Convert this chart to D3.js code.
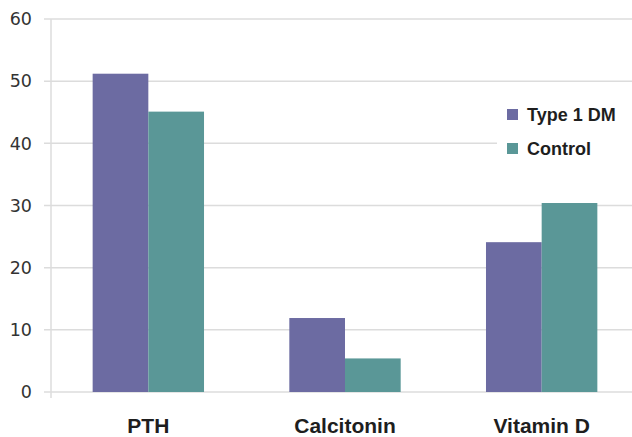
<!DOCTYPE html>
<html>
<head>
<meta charset="utf-8">
<script src="https://cdn.jsdelivr.net/npm/d3@7"></script>
<style>
  html, body { margin: 0; padding: 0; background: #fff; }
  svg { display: block; }
</style>
</head>
<body>
<svg id="chart" width="632" height="437"></svg>
<script>
// Bone-metabolism markers, Type 1 DM vs control
const categories = ["PTH", "Calcitonin", "Vitamin D"];
const seriesNames = ["Type 1 DM", "Control"];
const type1Values = [51.2, 11.9, 24.1];
const controlValues = [45.1, 5.4, 30.4];
const yTicks = [0, 10, 20, 30, 40, 50, 60];
const colors = ["#6c6ba2", "#5a9797"];

const svg = d3.select("#chart");
const W = 632, H = 437;

const y = d3.scaleLinear().domain([0, 60]).range([392, 19]);
const x0 = d3.scaleBand().domain(categories).range([50, 640]).padding(0);
const x1 = d3.scaleBand().domain(seriesNames)
  .range([0, x0.bandwidth()]).paddingInner(0).paddingOuter(0.766);

const rows = categories.map((c, i) => ({
  cat: c,
  vals: [
    { s: seriesNames[0], v: type1Values[i] },
    { s: seriesNames[1], v: controlValues[i] }
  ]
}));

// gridlines
svg.append("g").selectAll("line").data(yTicks).join("line")
  .attr("x1", 44).attr("x2", W)
  .attr("y1", d => y(d)).attr("y2", d => y(d))
  .attr("stroke", "#dcdcdc").attr("stroke-width", 1.5);

// vertical axis line
svg.append("line")
  .attr("x1", 51).attr("x2", 51).attr("y1", y(60)).attr("y2", y(0) + 6)
  .attr("stroke", "#dcdcdc").attr("stroke-width", 1.5);

// tick labels
svg.append("g").selectAll("text").data(yTicks).join("text")
  .attr("x", 32).attr("y", d => y(d))
  .attr("dy", "0.36em")
  .attr("text-anchor", "end")
  .attr("font-family", "DejaVu Sans, sans-serif")
  .attr("font-size", 17.5)
  .attr("fill", "#333")
  .text(d => d);

// bars
const groups = svg.append("g").selectAll("g").data(rows).join("g")
  .attr("transform", d => `translate(${x0(d.cat)},0)`);
groups.selectAll("rect").data(d => d.vals).join("rect")
  .attr("x", d => x1(d.s))
  .attr("width", x1.bandwidth())
  .attr("y", d => y(d.v))
  .attr("height", d => y(0) - y(d.v))
  .attr("fill", (d, i) => colors[i]);

// category labels
svg.append("g").selectAll("text").data(categories).join("text")
  .attr("x", d => x0(d) + x0.bandwidth() / 2)
  .attr("y", 433)
  .attr("text-anchor", "middle")
  .attr("font-family", "Liberation Sans, Arial, sans-serif")
  .attr("font-weight", "bold")
  .attr("font-size", 21)
  .attr("fill", "#1e1e1e")
  .text(d => d);

// legend
const legend = svg.append("g");
legend.append("rect")
  .attr("x", 497).attr("y", 95).attr("width", 135).attr("height", 75)
  .attr("fill", "#fff");
const li = legend.selectAll("g").data(seriesNames).join("g")
  .attr("transform", (d, i) => `translate(507,${109 + i * 34})`);
li.append("rect")
  .attr("width", 11).attr("height", 11)
  .attr("fill", (d, i) => colors[i]);
li.append("text")
  .attr("x", 20).attr("y", 11.5)
  .attr("font-family", "Liberation Sans, Arial, sans-serif")
  .attr("font-weight", "bold")
  .attr("font-size", 18)
  .attr("fill", "#1e1e1e")
  .text(d => d);
</script>
</body>
</html>
